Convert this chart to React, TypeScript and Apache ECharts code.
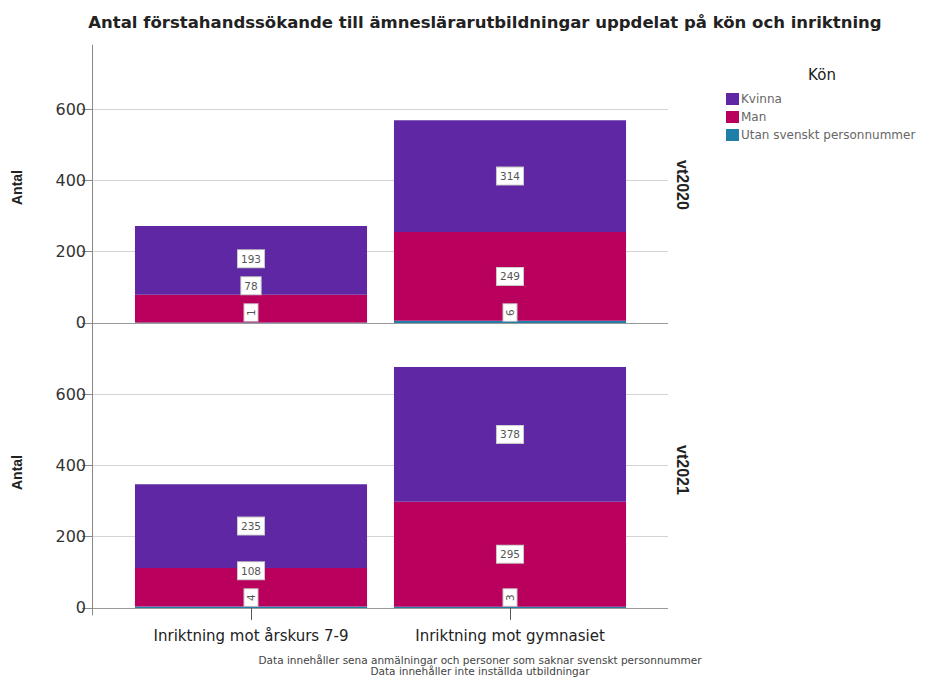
import React, { useEffect, useRef } from "react";
import * as echarts from "echarts";

const categories = ["Inriktning mot årskurs 7-9", "Inriktning mot gymnasiet"];
const panels = ["vt2020", "vt2021"];
const seriesNames = ["Utan svenskt personnummer", "Man", "Kvinna"];
const utan2020 = [1, 6];
const man2020 = [78, 249];
const kvinna2020 = [193, 314];
const utan2021 = [4, 3];
const man2021 = [108, 295];
const kvinna2021 = [235, 378];
const yTicks = [0, 200, 400, 600];
const footnotes = [
  "Data innehåller sena anmälningar och personer som saknar svenskt personnummer",
  "Data innehåller inte inställda utbildningar",
];

const panelData = [
  [utan2020, man2020, kvinna2020],
  [utan2021, man2021, kvinna2021],
];
const colors = ["#1f7fa6", "#b8005c", "#5f27a3"];
const FONT = "DejaVu Sans, sans-serif";
const FONT_V = "Liberation Sans, Arial, sans-serif";

export default function App() {
  const ref = useRef<HTMLDivElement>(null);
  useEffect(() => {
    document.body.style.margin = "0";
    if (!ref.current) return;
    const chart = echarts.init(ref.current, null, { renderer: "svg" });
    const GAP = 8;
    const tops: Record<string, number> = {};
    const makeLayout = (panel: number, level: number) => (p: any) => {
      const key = panel + "-" + p.dataIndex;
      const lr = p.labelRect;
      const r = p.rect;
      const h = level === 0 ? Math.max(lr.width, lr.height) : lr.height;
      let target: number;
      if (level === 0) {
        target = r.y + r.height - h / 2 - 1;
      } else {
        const mid = r.y + r.height / 2;
        const prev = tops[key + "-" + (level - 1)];
        target = prev == null ? mid : Math.min(mid, prev - GAP - h / 2);
      }
      tops[key + "-" + level] = target - h / 2;
      return { x: r.x + r.width / 2, y: target, align: "center", verticalAlign: "middle" };
    };

    const tops_px = [45, 330];
    const gridH = 285;
    const grids: any[] = [];
    tops_px.forEach((t) => grids.push({ left: 92, width: 576, top: t, height: gridH }));
    tops_px.forEach((t) => grids.push({ left: 121.5, width: 518, top: t, height: gridH }));

    const xAxis: any[] = [];
    const yAxis: any[] = [];
    [0, 1].forEach((i) => {
      xAxis.push({ gridIndex: i, type: "value", show: false, min: 0, max: 1 });
      yAxis.push({
        gridIndex: i,
        type: "value",
        min: -20,
        max: 780,
        name: "Antal",
        nameLocation: "middle",
        nameGap: 68,
        nameTextStyle: { fontFamily: FONT_V, fontSize: 14, fontWeight: "bold", color: "#222" },
        axisLine: { show: true, lineStyle: { color: "#8a8a8a", width: 1 } },
        axisTick: { show: true, length: 10, customValues: yTicks, lineStyle: { color: "#8a8a8a" } },
        axisLabel: { customValues: yTicks, fontFamily: FONT, fontSize: 16, color: "#333", margin: 6 },
        splitLine: {
          show: true,
          lineStyle: { color: ["#9a9a9a", "#d4d4d4", "#d4d4d4", "#d4d4d4"], width: 1 },
        },
      });
    });
    [0, 1].forEach((i) => {
      xAxis.push({
        gridIndex: 2 + i,
        type: "category",
        data: categories,
        axisLine: { show: false, onZero: true },
        axisTick: {
          show: i === 1,
          alignWithLabel: true,
          length: 12,
          lineStyle: { color: "#555" },
        },
        axisLabel: {
          show: i === 1,
          fontFamily: FONT,
          fontSize: 15,
          color: "#222",
          margin: 13,
        },
      });
      yAxis.push({ gridIndex: 2 + i, type: "value", min: -20, max: 780, show: false, splitLine: { show: false } });
    });

    const series: any[] = [];
    panelData.forEach((arrs, pi) => {
      arrs.forEach((vals, li) => {
        series.push({
          type: "bar",
          name: seriesNames[li],
          xAxisIndex: 2 + pi,
          yAxisIndex: 2 + pi,
          stack: "p" + pi,
          data: vals,
          barCategoryGap: "10.4%",
          itemStyle: { color: colors[li] },
          label: {
            show: true,
            position: "inside",
            rotate: li === 0 ? 90 : 0,
            fontFamily: FONT,
            fontSize: 10.5,
            color: "#555",
            backgroundColor: "#ffffff",
            borderColor: "#c8c8c8",
            borderWidth: 1,
            padding: li === 0 ? [1, 5] : [3, 3],
          },
          labelLayout: makeLayout(pi, li),
        });
      });
    });

    const graphic: any[] = [
      {
        type: "text",
        x: 822,
        y: 75,
        style: { text: "Kön", fontFamily: FONT, fontSize: 15, fill: "#222", textAlign: "center", textVerticalAlign: "middle" },
      },
    ];
    panels.forEach((name, i) => {
      graphic.push({
        type: "text",
        x: 682,
        y: tops_px[i] + 140,
        rotation: -Math.PI / 2,
        style: {
          text: name,
          fontFamily: FONT_V,
          fontSize: 16,
          fontWeight: "bold",
          fill: "#222",
          textAlign: "center",
          textVerticalAlign: "middle",
        },
      });
    });
    footnotes.forEach((t, i) => {
      graphic.push({
        type: "text",
        x: 480,
        y: 660 + i * 11,
        style: { text: t, fontFamily: FONT, fontSize: 10.5, fill: "#444", textAlign: "center", textVerticalAlign: "middle" },
      });
    });

    chart.setOption({
      animation: false,
      backgroundColor: "#ffffff",
      title: {
        text: "Antal förstahandssökande till ämneslärarutbildningar uppdelat på kön och inriktning",
        left: 480,
        textAlign: "center",
        top: 9,
        textStyle: { fontFamily: FONT, fontSize: 16.5, fontWeight: "bold", color: "#222" },
      },
      legend: {
        data: ["Kvinna", "Man", "Utan svenskt personnummer"],
        orient: "vertical",
        left: 726,
        top: 93,
        padding: 0,
        itemWidth: 13,
        itemHeight: 12,
        itemGap: 6,
        icon: "rect",
        selectedMode: false,
        textStyle: { fontFamily: FONT, fontSize: 12, color: "#666", padding: [0, 0, 0, -3] },
      },
      grid: grids,
      xAxis,
      yAxis,
      series,
      graphic,
    });
    return () => chart.dispose();
  }, []);
  return <div ref={ref} style={{ width: 928, height: 677 }} />;
}
